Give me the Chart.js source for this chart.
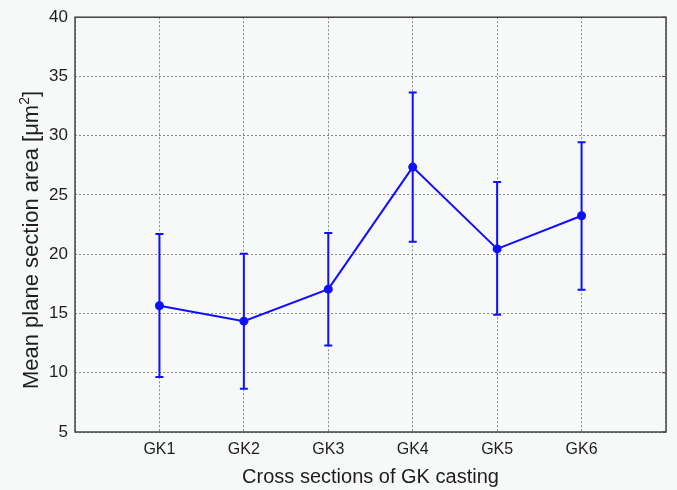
<!DOCTYPE html>
<html>
<head>
<meta charset="utf-8">
<script src="https://cdn.jsdelivr.net/npm/chart.js@4.4.1/dist/chart.umd.min.js"></script>
<style>
  html, body { margin: 0; padding: 0; background: #f7f9f9; }
  #wrap { width: 677px; height: 490px; }
</style>
</head>
<body>
<div id="wrap"><canvas id="chart" width="677" height="490"></canvas></div>
<script>
// data
const categories = ['GK1', 'GK2', 'GK3', 'GK4', 'GK5', 'GK6'];
const means = [15.65, 14.35, 17.05, 27.35, 20.45, 23.25];
const upper = [21.7, 20.05, 21.8, 33.65, 26.1, 29.45];
const lower = [9.65, 8.65, 12.3, 21.05, 14.9, 17.0];
const yTicks = [5, 10, 15, 20, 25, 30, 35, 40];
const yTitle = 'Mean plane section area [\u03bcm';

const blue = '#1010ff';
const textColor = '#1e1e1e';
const fontFamily = 'Liberation Sans';

// error bars, frame and y title (with superscript) drawn over the chart
const errorBars = {
    id: 'errorBars',
    beforeDatasetsDraw(chart) {
        const { ctx, scales: { x, y } } = chart;
        ctx.save();
        ctx.strokeStyle = blue;
        ctx.lineWidth = 2;
        categories.forEach((c, i) => {
            const px = x.getPixelForValue(i + 1);
            const top = y.getPixelForValue(upper[i]);
            const bot = y.getPixelForValue(lower[i]);
            ctx.beginPath();
            ctx.moveTo(px, top);
            ctx.lineTo(px, bot);
            ctx.moveTo(px - 4, top);
            ctx.lineTo(px + 4, top);
            ctx.moveTo(px - 4, bot);
            ctx.lineTo(px + 4, bot);
            ctx.stroke();
        });
        ctx.restore();
    },
    afterDraw(chart) {
        const { ctx, chartArea: a, scales: { x, y } } = chart;
        ctx.save();
        ctx.strokeStyle = '#444';
        ctx.lineWidth = 1.5;
        ctx.strokeRect(a.left, a.top, a.right - a.left, a.bottom - a.top);
        ctx.lineWidth = 1;
        // small inward ticks on the right side
        yTicks.forEach(v => {
            const py = y.getPixelForValue(v);
            ctx.beginPath();
            ctx.moveTo(a.right, py);
            ctx.lineTo(a.right - 4, py);
            ctx.stroke();
        });
        ctx.restore();

        // y axis title, rotated, with a real superscript 2
        ctx.save();
        ctx.fillStyle = textColor;
        ctx.textBaseline = 'alphabetic';
        ctx.textAlign = 'left';
        const main = '22px ' + fontFamily;
        const sup = '14px ' + fontFamily;
        ctx.font = main;
        const w1 = ctx.measureText(yTitle).width;
        const w3 = ctx.measureText(']').width;
        ctx.font = sup;
        const w2 = ctx.measureText('2').width;
        const total = w1 + w2 + w3;
        ctx.translate(38, 240);
        ctx.rotate(-Math.PI / 2);
        let tx = -total / 2;
        ctx.font = main;
        ctx.fillText(yTitle, tx, 0);
        tx += w1;
        ctx.font = sup;
        ctx.fillText('2', tx, -9);
        tx += w2;
        ctx.font = main;
        ctx.fillText(']', tx, 0);
        ctx.restore();
    }
};

const ctx = document.getElementById('chart').getContext('2d');
const chart = new Chart(ctx, {
    type: 'line',
    data: {
        datasets: [{
            data: means.map((m, i) => ({ x: i + 1, y: m })),
            borderColor: blue,
            backgroundColor: blue,
            borderWidth: 2,
            pointRadius: 4.5,
            pointBackgroundColor: blue,
            pointBorderWidth: 0,
            tension: 0
        }]
    },
    options: {
        responsive: false,
        animation: false,
        layout: { padding: { top: 17, right: 11, left: 0, bottom: 0 } },
        plugins: {
            legend: { display: false },
            tooltip: { enabled: false }
        },
        scales: {
            x: {
                type: 'linear',
                min: 0,
                max: 7,
                afterBuildTicks: (s) => { s.ticks = [0, 1, 2, 3, 4, 5, 6, 7].map(v => ({ value: v })); },
                afterFit: (s) => { s.height = 58; },
                ticks: {
                    autoSkip: false,
                    maxRotation: 0,
                    color: textColor,
                    font: { family: fontFamily, size: 16 },
                    padding: 8,
                    callback: (v) => categories[v - 1] || ''
                },
                grid: { color: '#8a8a8a', lineWidth: 1, drawTicks: false },
                border: { display: false, dash: [2, 2] },
                title: {
                    display: true,
                    text: 'Cross sections of GK casting',
                    color: textColor,
                    font: { family: fontFamily, size: 20 },
                    padding: { top: 4, bottom: 1 }
                }
            },
            y: {
                min: 5,
                max: 40,
                afterBuildTicks: (s) => { s.ticks = yTicks.map(v => ({ value: v })); },
                afterFit: (s) => { s.width = 75; },
                ticks: {
                    color: textColor,
                    font: { family: fontFamily, size: 17 },
                    padding: 7
                },
                grid: { color: '#8a8a8a', lineWidth: 1, drawTicks: false },
                border: { display: false, dash: [2, 2] }
            }
        }
    },
    plugins: [errorBars]
});
</script>
</body>
</html>
